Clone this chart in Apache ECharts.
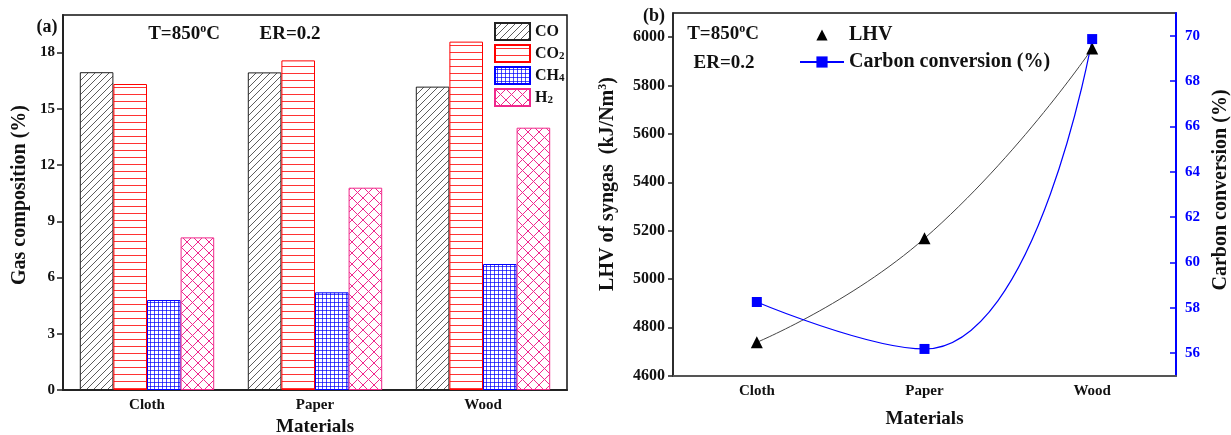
<!DOCTYPE html>
<html><head><meta charset="utf-8">
<script src="https://cdn.jsdelivr.net/npm/echarts@6/dist/echarts.min.js"></script>
<style>html,body{margin:0;padding:0;background:#fff}#c{width:1231px;height:435px}</style>
</head><body><div id="c"></div>
<script>
// ---- data ----
const categories = ['Cloth', 'Paper', 'Wood'];
const coValues = [16.95, 16.94, 16.18];
const co2Values = [16.32, 17.58, 18.58];
const ch4Values = [4.80, 5.21, 6.72];
const h2Values = [8.14, 10.79, 13.99];
const gasTicks = [0, 3, 6, 9, 12, 15, 18];
const lhvValues = [4738, 5168, 5953];
const carbonValues = [58.25, 56.18, 69.85];
const lhvTicks = [4600, 4800, 5000, 5200, 5400, 5600, 5800, 6000];
const carbonTicks = [56, 58, 60, 62, 64, 66, 68, 70];

const FF = '"Liberation Serif", "Times New Roman", serif';
const PINK = '#F0288C';

function makePattern(w, h, draw) {
  const c = document.createElement('canvas');
  c.width = w; c.height = h;
  const ctx = c.getContext('2d');
  ctx.fillStyle = '#fff'; ctx.fillRect(0, 0, w, h);
  draw(ctx, w, h);
  return { image: c, repeat: 'repeat' };
}
const coPat = makePattern(7, 7, (ctx, w, h) => {
  ctx.strokeStyle = '#333'; ctx.lineWidth = 0.8;
  ctx.beginPath();
  ctx.moveTo(-1, h + 1); ctx.lineTo(w + 1, -1);
  ctx.moveTo(-1, 1); ctx.lineTo(1, -1);
  ctx.moveTo(w - 1, h + 1); ctx.lineTo(w + 1, h - 1);
  ctx.stroke();
});
const co2Pat = makePattern(4, 7, (ctx) => {
  ctx.fillStyle = 'rgba(255,0,0,0.8)'; ctx.fillRect(0, 3, 4, 1);
});
const ch4Pat = makePattern(4, 4, (ctx) => {
  ctx.fillStyle = 'rgba(0,0,255,0.7)';
  ctx.fillRect(0, 2, 4, 1); ctx.fillRect(2, 0, 1, 4);
});
const h2Pat = makePattern(11, 11, (ctx, w, h) => {
  ctx.strokeStyle = PINK; ctx.lineWidth = 1;
  ctx.beginPath();
  ctx.moveTo(0, 0); ctx.lineTo(w, h);
  ctx.moveTo(0, h); ctx.lineTo(w, 0);
  ctx.stroke();
});

const chart = echarts.init(document.getElementById('c'), null, { renderer: 'canvas' });
const lbl = { fontFamily: FF, fontWeight: 'bold', fontSize: 15, color: '#111' };
const plain = v => String(v);
const subRich = {
  sub: { fontFamily: FF, fontWeight: 'bold', fontSize: 11, lineHeight: 11, verticalAlign: 'bottom', color: '#111' },
  sup: { fontFamily: FF, fontWeight: 'bold', fontSize: 12, lineHeight: 12, verticalAlign: 'top', color: '#111' }
};

function gText(x, y, text, size, rot, color) {
  return {
    type: 'text', x: x, y: y, rotation: rot || 0,
    style: {
      text: text, fontFamily: FF, fontWeight: 'bold', fontSize: size || 19,
      fill: color || '#111', align: 'center', verticalAlign: 'middle',
      lineHeight: 22, rich: subRich
    }
  };
}
const nameStyle = { fontFamily: FF, fontWeight: 'bold', fontSize: 19, color: '#111' };

const option = {
  backgroundColor: '#fff',
  animation: false,
  grid: [
    { left: 63, right: 664, top: 15, bottom: 45, show: true, borderColor: '#111', borderWidth: 1.5, outerBoundsMode: 'none', containLabel: false },
    { left: 673, right: 55, top: 13, bottom: 59.3, show: true, borderColor: '#111', borderWidth: 1.5, outerBoundsMode: 'none', containLabel: false }
  ],
  xAxis: [
    {
      gridIndex: 0, type: 'category', data: categories,
      axisLine: { lineStyle: { color: '#222', width: 2 } },
      axisTick: { inside: true, alignWithLabel: true, length: 5, lineStyle: { color: '#222', width: 1.5 } },
      axisLabel: Object.assign({ margin: 8 }, lbl),
      name: 'Materials', nameLocation: 'middle', nameGap: 28, nameTextStyle: nameStyle
    },
    {
      gridIndex: 1, type: 'category', data: categories,
      axisLine: { lineStyle: { color: '#555', width: 2 } },
      axisTick: { inside: true, alignWithLabel: true, length: 6, lineStyle: { color: '#333', width: 1.5 } },
      axisLabel: Object.assign({ margin: 8 }, lbl),
      name: 'Materials', nameLocation: 'middle', nameGap: 34, nameTextStyle: nameStyle
    }
  ],
  yAxis: [
    {
      gridIndex: 0, type: 'value', min: 0, max: 20,
      axisLine: { show: true, lineStyle: { color: '#222', width: 2 } },
      axisTick: { show: true, length: 6, customValues: gasTicks, lineStyle: { color: '#222', width: 1.5 } },
      axisLabel: Object.assign({ margin: 8, customValues: gasTicks, formatter: plain }, lbl),
      splitLine: { show: false }
    },
    {
      gridIndex: 1, type: 'value', min: 4600, max: 6100, position: 'left',
      axisLine: { show: true, lineStyle: { color: '#222', width: 1.5 } },
      axisTick: { show: true, length: 5, customValues: lhvTicks, lineStyle: { color: '#222', width: 1.5 } },
      axisLabel: Object.assign({ margin: 8, customValues: lhvTicks, formatter: plain }, lbl, { fontSize: 16 }),
      splitLine: { show: false }
    },
    {
      gridIndex: 1, type: 'value', min: 55, max: 71, position: 'right',
      axisLine: { show: true, lineStyle: { color: '#0000FF', width: 2 } },
      axisTick: { show: true, inside: true, length: 6, customValues: carbonTicks, lineStyle: { color: '#0000FF', width: 1.5 } },
      axisLabel: Object.assign({ margin: 9, customValues: carbonTicks, formatter: plain }, lbl, { color: '#0000FF' }),
      splitLine: { show: false }
    }
  ],
  legend: [
    {
      left: 494, top: 22, padding: 0, orient: 'vertical', itemWidth: 35, itemHeight: 17, itemGap: 3,
      icon: 'rect',
      data: ['CO', 'CO2', 'CH4', 'H2'],
      formatter: n => n.replace(/(\d)/, '{sub|$1}'),
      textStyle: { fontFamily: FF, fontWeight: 'bold', fontSize: 16, lineHeight: 17, color: '#111', rich: subRich },
      selectedMode: false
    },
    {
      left: 799, top: 24, padding: 0, orient: 'vertical', itemWidth: 44, itemHeight: 14, itemGap: 5,
      data: [{ name: 'LHV', lineStyle: { opacity: 0 } }, { name: 'Carbon conversion (%)' }],
      textStyle: { fontFamily: FF, fontWeight: 'bold', fontSize: 20, lineHeight: 22, color: '#111' },
      selectedMode: false
    }
  ],
  series: [
    { name: 'CO', type: 'bar', xAxisIndex: 0, yAxisIndex: 0, data: coValues, barGap: '0%', barCategoryGap: '20%',
      itemStyle: { color: coPat, borderColor: '#222', borderWidth: 1 } },
    { name: 'CO2', type: 'bar', xAxisIndex: 0, yAxisIndex: 0, data: co2Values,
      itemStyle: { color: co2Pat, borderColor: '#FF0000', borderWidth: 1 } },
    { name: 'CH4', type: 'bar', xAxisIndex: 0, yAxisIndex: 0, data: ch4Values,
      itemStyle: { color: ch4Pat, borderColor: '#0000FF', borderWidth: 1 } },
    { name: 'H2', type: 'bar', xAxisIndex: 0, yAxisIndex: 0, data: h2Values,
      itemStyle: { color: h2Pat, borderColor: PINK, borderWidth: 1 } },
    { name: 'LHV', type: 'line', xAxisIndex: 1, yAxisIndex: 1, data: lhvValues, smooth: 0.5,
      symbol: 'triangle', symbolSize: 12, itemStyle: { color: '#000' },
      lineStyle: { color: '#444', width: 1 } },
    { name: 'Carbon conversion (%)', type: 'line', xAxisIndex: 1, yAxisIndex: 2, data: carbonValues, smooth: 0.5,
      symbol: 'rect', symbolSize: 10, itemStyle: { color: '#0000FF' },
      lineStyle: { color: '#0000FF', width: 1.2 } }
  ],
  graphic: [
    gText(47, 27, '(a)', 18),
    gText(184, 34, 'T=850{sup|o}C', 19),
    gText(290, 34, 'ER=0.2', 19),
    gText(20, 195, 'Gas composition (%)', 20, Math.PI / 2),
    gText(654, 16, '(b)', 18),
    gText(723, 34, 'T=850{sup|o}C', 19),
    gText(724, 63, 'ER=0.2', 19),
    gText(608, 184, 'LHV of syngas  (kJ/Nm{sup|3})', 20, Math.PI / 2),
    gText(1221, 190, 'Carbon conversion (%)', 20, Math.PI / 2)
  ]
};
chart.setOption(option);
</script>
</body></html>
